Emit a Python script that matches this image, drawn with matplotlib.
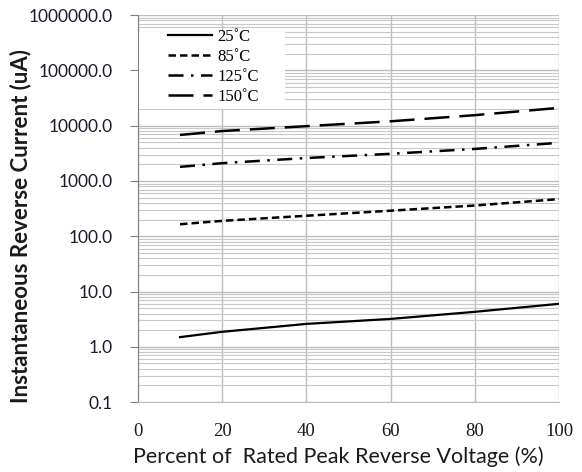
import matplotlib
matplotlib.use("Agg")
import matplotlib.pyplot as plt
from matplotlib.ticker import LogLocator, FixedLocator, NullFormatter
from matplotlib.patches import Rectangle

x = [10, 20, 40, 60, 80, 100]
i25 = [1.5, 1.87, 2.6, 3.2, 4.3, 6.0]
i85 = [165, 190, 235, 290, 360, 470]
i125 = [1800, 2100, 2600, 3100, 3800, 4900]
i150 = [6800, 8000, 9800, 12000, 15500, 21000]
labels = ["25˚C", "85˚C", "125˚C", "150˚C"]
yticks = [0.1, 1, 10, 100, 1000, 10000, 100000, 1000000]
xticks = [0, 20, 40, 60, 80, 100]

sans = ["Lato", "DejaVu Sans"]
serif = ["Liberation Serif", "DejaVu Serif"]

fig = plt.figure(figsize=(5.82, 4.72), dpi=100)
ax = fig.add_axes([0.237, 0.148, 0.7235, 0.82])

ax.plot(x, i25, color="black", lw=1.6, label=labels[0], zorder=3)
ax.plot(x, i85, color="black", lw=1.8, dashes=(3, 1.6), label=labels[1], zorder=3)
ax.plot(x, i125, color="black", lw=1.8, dashes=(6, 3, 1, 3), label=labels[2], zorder=3)
ax.plot(x, i150, color="black", lw=1.8, dashes=(10, 4), label=labels[3], zorder=3)

ax.set_yscale("log")
ax.set_ylim(0.1, 1000000)
ax.set_xlim(0, 100)
ax.yaxis.set_major_locator(FixedLocator(yticks))
ax.set_yticklabels([f"{v:.1f}" for v in yticks], fontsize=12.5, family=sans, color="#1a1a2a")
ax.yaxis.set_minor_locator(LogLocator(base=10, subs=range(2, 10)))
ax.yaxis.set_minor_formatter(NullFormatter())
ax.set_xticks(xticks)
ax.set_xticklabels([str(v) for v in xticks], fontsize=13.5, family=serif, color="#1a1a1a")

ax.grid(True, which="major", color="#bdbdbd", lw=1.0)
ax.grid(True, which="minor", axis="y", color="#c8c8c8", lw=0.8)
ax.set_axisbelow(True)

# white legend background covering the grid
ax.add_patch(Rectangle((0.0, 0.757), 0.35, 0.2, transform=ax.transAxes,
                       facecolor="white", edgecolor="none", zorder=1))

for s in ["top", "right"]:
    ax.spines[s].set_visible(False)
ax.spines["left"].set_color("#808080")
ax.spines["bottom"].set_color("#bdbdbd")
ax.tick_params(axis="y", which="major", length=6, color="#808080", pad=12)
ax.tick_params(axis="y", which="minor", length=0)
ax.tick_params(axis="x", length=0, pad=15)

ax.set_ylabel("Instantaneous Reverse Current (uA)", fontsize=16, fontweight="bold",
              family=sans, color="#1a1a1a")
ax.yaxis.set_label_coords(-0.252, 0.455)
ax.set_xlabel("Percent of  Rated Peak Reverse Voltage (%)", fontsize=15.5,
              family=sans, color="#1a1a1a")
ax.xaxis.set_label_coords(0.477, -0.115)

leg = ax.legend(loc="upper left", bbox_to_anchor=(0.071, 0.965), frameon=False,
                prop={"family": serif, "size": 12},
                handlelength=2.65, handletextpad=0.3, labelspacing=0.25,
                borderpad=0, borderaxespad=0)
leg.set_zorder(4)

fig.savefig("out.png", dpi=100)
